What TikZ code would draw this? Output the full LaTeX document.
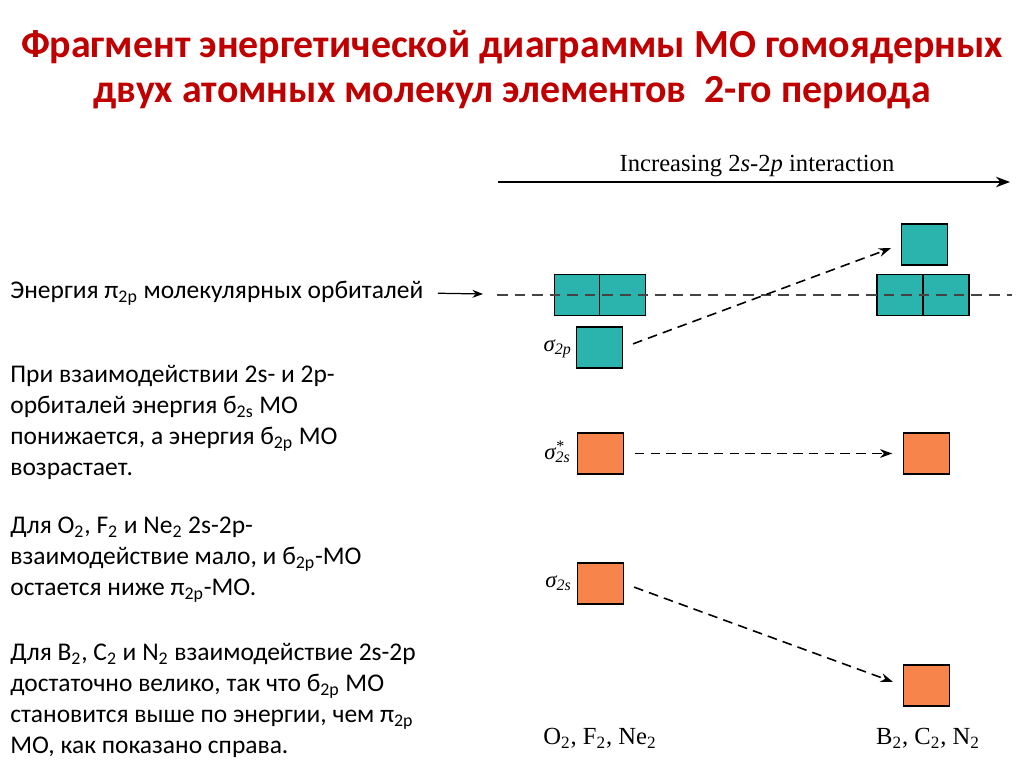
\documentclass[tikz,border=0pt]{standalone}
\usepackage{fontspec}
\setmainfont{Carlito}
\newfontfamily\diagfont{Liberation Serif}
\usetikzlibrary{arrows.meta}
\definecolor{titlered}{HTML}{C00000}
\definecolor{orbteal}{HTML}{2BB3AE}
\definecolor{orborange}{HTML}{F7844B}
\definecolor{levelgray}{HTML}{444444}
\tikzset{
  orb/.style={draw=black, line width=0.8pt, minimum width=0.92cm, minimum height=0.82cm, inner sep=0pt},
  tealorb/.style={orb, fill=orbteal},
  orangeorb/.style={orb, fill=orborange},
  dasharrow/.style={dash pattern=on 5.5pt off 3.5pt, line width=0.9pt, -{Stealth[length=7pt,width=5pt]}, shorten <=6pt, shorten >=6pt},
  bodytext/.style={anchor=north west, align=left, inner sep=0pt, font=\fontsize{14.5}{17.6}\selectfont},
  mlabel/.style={font=\diagfont\fontsize{14}{16}\selectfont, inner sep=0pt},
  siglabel/.style={font=\diagfont\itshape\fontsize{13}{15}\selectfont, inner sep=0pt, anchor=east},
}
\begin{document}
\begin{tikzpicture}[x=0.02cm,y=-0.02cm]
  \useasboundingbox (0,0) rectangle (1024,767);

  % Title
  \node[font=\bfseries\fontsize{22.7}{25.5}\selectfont, text=titlered, align=center] (title) at (512,70)
    {Фрагмент энергетической диаграммы МО гомоядерных\\двух атомных молекул элементов\ \ 2-го периода};

  % Left-hand text
  \node[bodytext, anchor=west] (ener) at (10,293) {Энергия π\textsubscript{2p} молекулярных орбиталей};
  \node[bodytext] (para1) at (10,365)
    {При взаимодействии 2s- и 2p-\\орбиталей энергия б\textsubscript{2s} МО\\понижается, а энергия б\textsubscript{2p} МО\\возрастает.};
  \node[bodytext] (para2) at (10,517)
    {Для O\textsubscript{2}, F\textsubscript{2} и Ne\textsubscript{2} 2s-2p-\\взаимодействие мало, и б\textsubscript{2p}-МО\\остается ниже π\textsubscript{2p}-МО.};
  \node[bodytext] (para3) at (10,643)
    {Для B\textsubscript{2}, C\textsubscript{2} и N\textsubscript{2} взаимодействие 2s-2p\\достаточно велико, так что б\textsubscript{2p} МО\\становится выше по энергии, чем π\textsubscript{2p}\\МО, как показано справа.};

  % Increasing interaction arrow
  \coordinate (incL) at (498,182);
  \coordinate (incR) at (1010,182);
  \draw[line width=0.8pt, -{Stealth[length=8pt,width=6pt]}] (incL) -- (incR);
  \node[mlabel] (inclabel) at (757,166) {Increasing 2\textit{s}-2\textit{p} interaction};

  % Orbital boxes
  \node[tealorb] (piL1) at (577.5,295) {};
  \node[tealorb] (piL2) at (622.5,295) {};
  \node[tealorb] (piR1) at (900,295) {};
  \node[tealorb] (piR2) at (946,295) {};
  \node[tealorb] (sigpR) at (924.5,244.5) {};
  \node[tealorb] (sigpL) at (599.5,347.5) {};
  \node[orangeorb] (sigsstarL) at (600.5,453.5) {};
  \node[orangeorb] (sigsstarR) at (926.5,453.5) {};
  \node[orangeorb] (sigsL) at (600.5,583.5) {};
  \node[orangeorb] (sigsR) at (926.5,685.5) {};

  % Energy level of pi_2p
  \coordinate (enL) at (497,295);
  \coordinate (enR) at (1012,295);
  \coordinate (enTip) at (483,294);
  \draw[levelgray, line width=0.7pt, dash pattern=on 6pt off 4pt] (enL) -- (enR);
  \draw[line width=0.7pt, -{Stealth[length=6pt,width=4.5pt]}, shorten <=8pt] (ener.east) -- (enTip);

  % Orbital labels
  \node[siglabel] (sigplab) at (572,349) {σ\textsubscript{2\textit{p}}};
  \node[siglabel] (sigsstarlab) at (571,452) {σ\rlap{\textsuperscript{*}}\textsubscript{2\textit{s}}};
  \node[siglabel] (sigslab) at (572,583) {σ\textsubscript{2\textit{s}}};

  % Shifts of the levels
  \draw[dasharrow] (sigpL.east) -- (sigpR.west);
  \draw[dasharrow] (sigsstarL.east) -- (sigsstarR.west);
  \draw[dasharrow] (sigsL.east) -- (sigsR.west);

  % Molecule groups
  \node[mlabel] (grpL) at (600,738) {O\textsubscript{2}, F\textsubscript{2}, Ne\textsubscript{2}};
  \node[mlabel] (grpR) at (928,738) {B\textsubscript{2}, C\textsubscript{2}, N\textsubscript{2}};
\end{tikzpicture}
\end{document}
